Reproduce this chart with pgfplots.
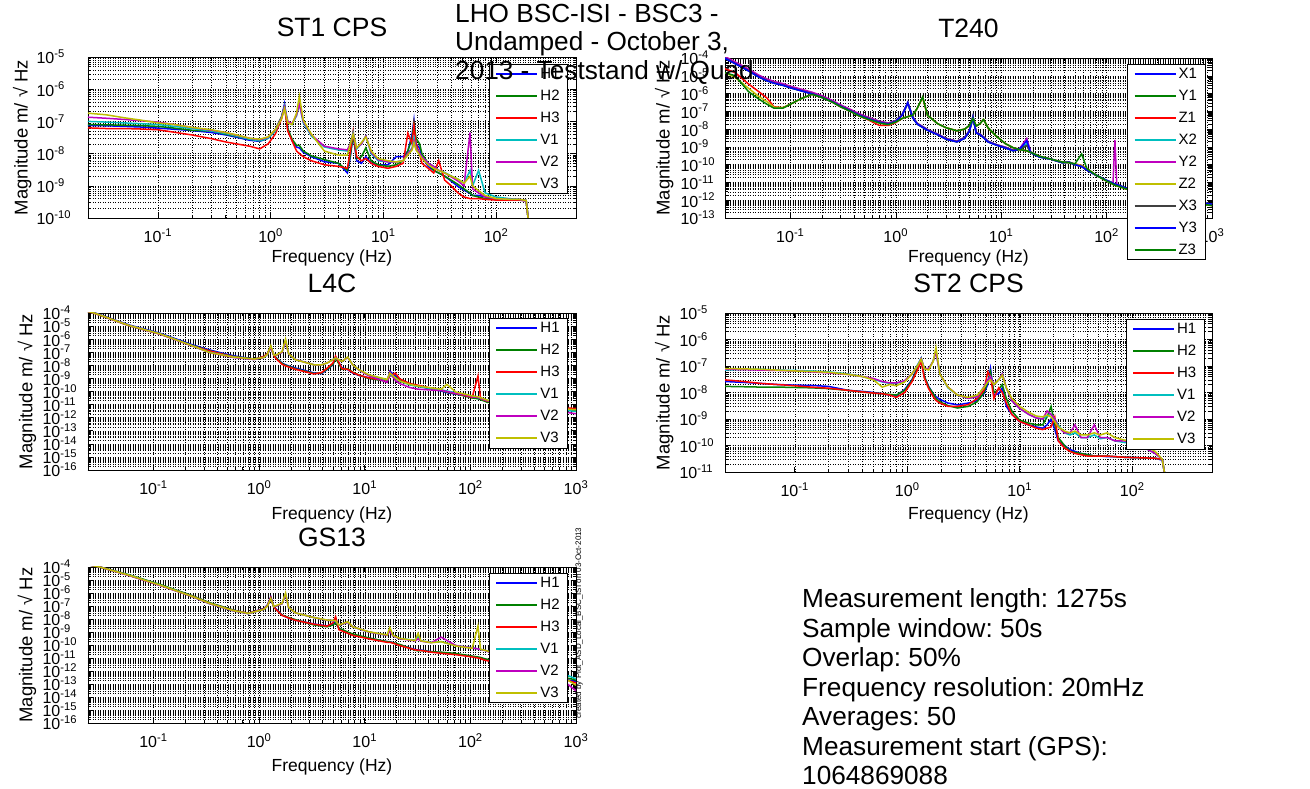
\documentclass[border=0pt]{standalone}
\usepackage{pgfplots}
\usepackage{pgfplotstable}
\pgfplotsset{compat=1.18}
\usepackage{fontspec}
\setmainfont{Liberation Sans}
\frenchspacing

\definecolor{mblue}{rgb}{0,0,1}
\definecolor{mgreen}{rgb}{0,0.5,0}
\definecolor{mred}{rgb}{1,0,0}
\definecolor{mcyan}{rgb}{0,0.75,0.75}
\definecolor{mmag}{rgb}{0.75,0,0.75}
\definecolor{molive}{rgb}{0.75,0.75,0}
\definecolor{mgray}{rgb}{0.25,0.25,0.25}

% ---------------- ST1 CPS ----------------
\pgfplotstableread{
f H1 H2 H3 V1 V2 V3
0.024 7.5e-8 8e-8 6.3e-8 1e-7 1.35e-7 1.8e-7
0.035 7.3e-8 7.8e-8 6e-8 9.5e-8 1.25e-7 1.6e-7
0.05 7e-8 7.6e-8 6e-8 9e-8 1.15e-7 1.3e-7
0.07 6.7e-8 7.4e-8 5.8e-8 8.5e-8 1.05e-7 1.1e-7
0.1 6.2e-8 7e-8 5.5e-8 8e-8 9.5e-8 9e-8
0.14 5.7e-8 6.2e-8 4.6e-8 7e-8 8e-8 8e-8
0.2 5.2e-8 5.3e-8 3.8e-8 6e-8 6.5e-8 6.5e-8
0.3 4.5e-8 5e-8 2.9e-8 5e-8 5.3e-8 5.5e-8
0.4 3.8e-8 4e-8 2.3e-8 4.2e-8 4.5e-8 4.5e-8
0.5 3.2e-8 3.4e-8 2e-8 3.5e-8 3.7e-8 3.8e-8
0.65 2.6e-8 2.8e-8 1.7e-8 2.8e-8 3e-8 3e-8
0.8 2.4e-8 2.5e-8 1.4e-8 2.5e-8 2.7e-8 2.8e-8
0.95 3e-8 3e-8 2e-8 3e-8 3.2e-8 3.3e-8
1.1 5e-8 5.5e-8 4e-8 5e-8 5.5e-8 5.5e-8
1.25 1.3e-7 1.4e-7 1.2e-7 1.3e-7 1.3e-7 1.2e-7
1.33 3.5e-7 3e-7 2.8e-7 3e-7 2.8e-7 2.5e-7
1.42 6e-8 6e-8 5e-8 1e-7 1e-7 9e-8
1.55 2.5e-8 2.8e-8 2.5e-8 8e-8 8.5e-8 8e-8
1.7 1.6e-8 1.8e-8 1.2e-8 1.5e-7 1.6e-7 1.8e-7
1.8 1.5e-8 1.8e-8 1e-8 3.5e-7 3.5e-7 6e-7
1.95 1.1e-8 1.2e-8 8e-9 9e-8 1e-7 1.1e-7
2.3 8e-9 8.5e-9 6e-9 3.5e-8 3.8e-8 4e-8
3 5.6e-9 6.5e-9 4.5e-9 1.6e-8 1.7e-8 1.2e-8
4 5e-9 5e-9 4e-9 1.3e-8 1.4e-8 9e-9
4.8 2.5e-9 3e-9 3.5e-9 1.2e-8 1.3e-8 9e-9
5.1 8e-9 9e-9 1.2e-8 2e-8 2e-8 2e-8
5.4 3.8e-8 4e-8 4.8e-8 4.5e-8 4e-8 4e-8
5.8 6e-9 7e-9 8e-9 1.4e-8 1.5e-8 1.5e-8
6.4 5e-9 8e-9 6e-9 2e-8 2e-8 2.2e-8
7.0 8e-9 1.5e-8 7e-9 3.5e-8 3.5e-8 3.3e-8
7.8 5e-9 6e-9 5e-9 1e-8 1.1e-8 1.2e-8
9 4.5e-9 4.5e-9 4e-9 6e-9 6.5e-9 7e-9
11 4.5e-9 4e-9 3.5e-9 5.5e-9 5.5e-9 6e-9
13 8e-9 4.5e-9 4e-9 5.5e-9 5.5e-9 5.5e-9
15 8e-9 6e-9 5e-9 6e-9 6e-9 6e-9
16.5 1.2e-8 1.2e-8 4.3e-8 1e-8 1e-8 9e-9
18 4e-8 3e-8 2e-8 1.5e-8 1.4e-8 1.3e-8
18.7 1.1e-7 9e-8 7.7e-8 3e-8 2.5e-8 2.2e-8
19.5 2e-8 3e-8 2e-8 1.5e-8 1.4e-8 1.3e-8
21 1.5e-8 2e-8 1e-8 1e-8 1e-8 9e-9
22 8e-9 1e-8 5e-9 8e-9 8e-9 7e-9
25 4e-9 5e-9 3.5e-9 5e-9 5e-9 4.5e-9
28 3e-9 3e-9 2.5e-9 4e-9 4e-9 3.5e-9
31 2.5e-9 2.5e-9 6e-9 3e-9 3e-9 3e-9
35 2e-9 2e-9 1.5e-9 2.6e-9 2.5e-9 2.5e-9
40 1.4e-9 1.5e-9 1e-9 2e-9 1.9e-9 2e-9
46 9.5e-10 1.1e-9 6e-10 1.6e-9 1.4e-9 1.6e-9
52 7.4e-10 8e-10 4.5e-10 1.2e-9 1e-9 1.2e-9
58.8 5.8e-10 6e-10 4e-10 3e-9 4.5e-8 2e-9
62 5e-10 5e-10 4e-10 1e-9 8e-10 1e-9
70 5e-10 4.5e-10 4e-10 3e-9 6e-10 7e-10
80 4.6e-10 4e-10 3.8e-10 6e-10 4.5e-10 5e-10
100 3.6e-10 3.8e-10 3.6e-10 4.5e-10 4e-10 4e-10
130 3.6e-10 3.7e-10 3.6e-10 4e-10 3.8e-10 3.8e-10
160 3.6e-10 3.7e-10 3.6e-10 3.8e-10 3.8e-10 3.8e-10
185 3.4e-10 3.5e-10 3.4e-10 3.5e-10 3.5e-10 3.5e-10
200 3e-11 3e-11 3e-11 3e-11 3e-11 3e-11
}\tabSTone

% ---------------- T240 ----------------
\pgfplotstableread{
f X1 Y1 Z1 X2 Y2 Z2 X3 Y3 Z3
0.024 1e-4 1e-4 2.5e-5 1.1e-4 1.2e-4 1.5e-5 1e-4 9.5e-5 1.5e-5
0.03 5e-5 4.8e-5 1.5e-5 5.5e-5 6e-5 8e-6 5e-5 4.8e-5 1e-5
0.04 2e-5 1.9e-5 3.5e-6 2.2e-5 2.4e-5 2e-6 2e-5 1.9e-5 1.3e-6
0.05 9e-6 8.6e-6 1.3e-6 1e-5 1.1e-5 7e-7 9e-6 8.6e-6 5e-7
0.06 5.5e-6 5.2e-6 5.6e-7 6e-6 6.6e-6 3.5e-7 5.5e-6 5.2e-6 2.5e-7
0.07 4e-6 3.8e-6 1.8e-7 4.4e-6 4.8e-6 1.7e-7 4e-6 3.8e-6 1.5e-7
0.085 3e-6 2.9e-6 1.6e-7 3.3e-6 3.6e-6 1.6e-7 3e-6 2.9e-6 1.5e-7
0.1 2.2e-6 2.1e-6 2.5e-7 2.4e-6 2.6e-6 2.5e-7 2.2e-6 2.1e-6 2.5e-7
0.125 1.5e-6 1.45e-6 5e-7 1.6e-6 1.8e-6 5e-7 1.5e-6 1.45e-6 5e-7
0.16 1e-6 9.6e-7 9e-7 1.1e-6 1.2e-6 9e-7 1e-6 9.6e-7 9e-7
0.2 6.3e-7 6e-7 6e-7 6.9e-7 7.5e-7 6e-7 6.3e-7 6e-7 6e-7
0.25 3.5e-7 3.4e-7 3.3e-7 3.8e-7 4.1e-7 3.3e-7 3.5e-7 3.4e-7 3.3e-7
0.3 2e-7 1.9e-7 1.8e-7 2.2e-7 2.3e-7 1.8e-7 2e-7 1.9e-7 1.8e-7
0.37 1.1e-7 1.05e-7 1e-7 1.2e-7 1.3e-7 1e-7 1.1e-7 1.05e-7 1e-7
0.45 6.3e-8 6e-8 5.5e-8 6.9e-8 7.3e-8 5.5e-8 6.3e-8 6e-8 5.5e-8
0.55 4e-8 3.8e-8 3.3e-8 4.4e-8 4.6e-8 3.5e-8 4e-8 3.8e-8 3.5e-8
0.7 2.5e-8 2.4e-8 1.6e-8 2.7e-8 2.8e-8 2.2e-8 2.5e-8 2.4e-8 2.2e-8
0.85 2e-8 1.9e-8 1.6e-8 2.2e-8 2.2e-8 1.8e-8 2e-8 1.9e-8 1.8e-8
1.0 2.8e-8 2.7e-8 2.3e-8 3e-8 3e-8 2.5e-8 2.8e-8 2.7e-8 2.5e-8
1.15 6.3e-8 6e-8 4e-8 6.5e-8 6.5e-8 4e-8 6.3e-8 6e-8 4e-8
1.3 3.2e-7 2.8e-7 5e-8 3e-7 3e-7 5e-8 3e-7 3e-7 5e-8
1.45 4.5e-8 4.3e-8 6e-8 4.8e-8 4.8e-8 6e-8 4.5e-8 4.3e-8 6e-8
1.6 2e-8 1.9e-8 1.5e-7 2.1e-8 2.1e-8 1.5e-7 2e-8 1.9e-8 1.5e-7
1.8 1.3e-8 1.25e-8 6e-7 1.4e-8 1.4e-8 6e-7 1.3e-8 1.25e-8 6.5e-7
2.0 9e-9 8.6e-9 6e-8 9.5e-9 9.5e-9 6e-8 9e-9 8.6e-9 6e-8
2.5 5e-9 4.8e-9 2e-8 5.3e-9 5.3e-9 2e-8 5e-9 4.8e-9 2e-8
3 2.8e-9 2.7e-9 1.2e-8 3e-9 3e-9 1.2e-8 2.8e-9 2.7e-9 1.2e-8
3.8 2e-9 1.9e-9 8e-9 2.1e-9 2.1e-9 8e-9 2e-9 1.9e-9 8e-9
4.5 3.2e-9 3e-9 1e-8 3.4e-9 3.4e-9 1e-8 3.2e-9 3e-9 1e-8
5.0 8e-9 7.6e-9 1.6e-8 8.5e-9 8.5e-9 1.6e-8 8e-9 7.6e-9 1.6e-8
5.4 5e-8 4.5e-8 4e-8 5e-8 5e-8 4e-8 5e-8 4.5e-8 4e-8
5.8 6.3e-9 6e-9 1.5e-8 6.6e-9 6.6e-9 1.5e-8 6.3e-9 6e-9 1.5e-8
6.3 5e-9 4.8e-9 2e-8 5.2e-9 5.2e-9 2e-8 5e-9 4.8e-9 2e-8
6.8 3.5e-9 3.3e-9 3.5e-8 3.7e-9 3.7e-9 3.5e-8 3.5e-9 3.3e-9 3.5e-8
7.5 2e-9 1.9e-9 1.2e-8 2.1e-9 2.1e-9 1.2e-8 2e-9 1.9e-9 1.2e-8
9 1.3e-9 1.25e-9 4e-9 1.35e-9 1.35e-9 4e-9 1.3e-9 1.25e-9 4e-9
11 9e-10 8.6e-10 1.5e-9 9.5e-10 9.5e-10 1.5e-9 9e-10 8.6e-10 1.5e-9
13 6.3e-10 6e-10 9e-10 6.6e-10 6.6e-10 9e-10 6.3e-10 6e-10 9e-10
15 8e-10 7e-10 7e-10 8e-10 8e-10 7e-10 8e-10 7.6e-10 7e-10
17.5 2.5e-9 1.2e-9 6e-10 1.5e-9 3e-9 6e-10 1.2e-9 2.2e-9 6e-10
19 5e-10 4.8e-10 5e-10 5.2e-10 5.2e-10 5e-10 5e-10 4.8e-10 5e-10
23 2.8e-10 2.7e-10 3e-10 2.9e-10 2.9e-10 3e-10 2.8e-10 2.7e-10 3e-10
30 2e-10 2e-10 2e-10 2e-10 2e-10 2e-10 2e-10 2e-10 2e-10
38 1.3e-10 1.3e-10 1.4e-10 1.3e-10 1.3e-10 1.4e-10 1.3e-10 1.3e-10 1.4e-10
44 1.4e-10 1.35e-10 1.3e-10 1.4e-10 1.4e-10 1.3e-10 1.4e-10 1.35e-10 1.3e-10
50 1e-10 1e-10 1.1e-10 1e-10 1e-10 1.1e-10 1e-10 1e-10 1.1e-10
58 8e-11 8e-11 9e-11 8e-11 8e-11 9e-11 8e-11 8e-11 4e-10
65 5e-11 5e-11 6e-11 5e-11 5e-11 6e-11 5e-11 5e-11 6e-11
80 2.5e-11 2.5e-11 2.5e-11 2.5e-11 2.5e-11 2.5e-11 2.5e-11 2.5e-11 2.5e-11
100 1.3e-11 1.3e-11 1.2e-11 1.3e-11 1.3e-11 1.2e-11 1.3e-11 1.3e-11 1.2e-11
115 9e-12 9e-12 8e-12 9e-12 9e-12 8e-12 9e-12 9e-12 8e-12
120 8e-12 8e-12 7e-12 8e-12 2.5e-9 7e-12 8e-12 8e-12 7e-12
125 7.5e-12 7.5e-12 6.5e-12 7.5e-12 7.5e-12 6.5e-12 7.5e-12 7.5e-12 6.5e-12
150 5e-12 5e-12 4.5e-12 5e-12 5e-12 4.5e-12 5e-12 5e-12 4.5e-12
200 3.2e-12 3e-12 3e-12 3.2e-12 3.2e-12 3e-12 3.2e-12 3e-12 3e-12
300 1.6e-12 1.6e-12 1.5e-12 1.6e-12 1.6e-12 1.5e-12 1.6e-12 1.6e-12 1.5e-12
500 1e-12 1e-12 9e-13 1e-12 1e-12 9e-13 1e-12 1e-12 9e-13
1000 6e-13 6e-13 5e-13 6e-13 6e-13 5e-13 6e-13 6e-13 5e-13
}\tabTtwo

% ---------------- L4C ----------------
\pgfplotstableread{
f H1 H2 H3 V1 V2 V3
0.024 1.4e-4 1.3e-4 1.25e-4 1.3e-4 1.3e-4 1.3e-4
0.028 1e-4 9.5e-5 9e-5 9.5e-5 9.5e-5 9.5e-5
0.059 1.2e-5 1.1e-5 1.05e-5 1.1e-5 1.1e-5 1.1e-5
0.116 2.8e-6 2.5e-6 2.4e-6 2.5e-6 2.4e-6 2.5e-6
0.236 3.6e-7 3.2e-7 3e-7 3e-7 2.9e-7 3e-7
0.34 1.5e-7 1.3e-7 1.25e-7 1e-7 9.5e-8 9.5e-8
0.565 5.4e-8 4.8e-8 4.6e-8 4.3e-8 4e-8 4.3e-8
0.9 3e-8 3e-8 2.8e-8 2.8e-8 2.8e-8 3e-8
1.11 4.3e-8 4.5e-8 4.8e-8 4e-8 4e-8 4e-8
1.2 8e-8 8e-8 8e-8 7e-8 7e-8 7e-8
1.29 2.7e-7 2.5e-7 2.6e-7 2.2e-7 2.2e-7 3.2e-7
1.38 6e-8 6e-8 5.5e-8 6e-8 6e-8 6e-8
1.46 3.6e-8 3.5e-8 3e-8 6e-8 6e-8 6.3e-8
1.65 1.5e-8 1.4e-8 1.2e-8 1e-7 1e-7 1.1e-7
1.78 1.1e-8 1e-8 9e-9 7e-7 7e-7 9.8e-7
1.9 9e-9 8.5e-9 7.5e-9 8e-8 8e-8 8e-8
2.2 6.3e-9 5.5e-9 5e-9 2.8e-8 2.8e-8 2.7e-8
3.3 2.6e-9 2.4e-9 2.2e-9 1.1e-8 1.1e-8 1.1e-8
3.9 2.3e-9 2.6e-9 2.8e-9 1.1e-8 1.1e-8 1.1e-8
4.4 4.7e-9 5e-9 6e-9 1.5e-8 1.5e-8 1.5e-8
5.0 1.1e-8 1.2e-8 1.5e-8 2.8e-8 2.7e-8 2.7e-8
5.3 4.3e-8 3.5e-8 5e-8 3.5e-8 3.5e-8 3.6e-8
6.1 6.3e-9 5e-9 5.5e-9 2e-8 2e-8 2e-8
6.9 4.7e-9 5.5e-9 5e-9 4e-8 4e-8 4.3e-8
7.7 2.6e-9 3e-9 2.8e-9 1.1e-8 1.1e-8 1.1e-8
8.8 1.7e-9 1.8e-9 1.8e-9 4.5e-9 4.5e-9 4.7e-9
10.9 1.1e-9 1e-9 1.1e-9 1.8e-9 1.6e-9 1.9e-9
16.3 6.2e-10 6e-10 6.5e-10 7.5e-10 5e-10 8.3e-10
17.3 3.5e-9 2e-9 1.5e-9 2e-9 3e-9 2.6e-9
19.5 1.5e-9 1.2e-9 2.5e-9 1e-9 7e-10 1.1e-9
21.5 8.3e-10 8e-10 9e-10 6e-10 4e-10 6.2e-10
26.8 3.5e-10 3.8e-10 4e-10 3.2e-10 2e-10 3.5e-10
32 2.6e-10 2.8e-10 3e-10 2.4e-10 1.5e-10 2.6e-10
42.6 1.5e-10 1.6e-10 1.8e-10 1.7e-10 1.3e-10 1.9e-10
53 1.1e-10 1.2e-10 1.3e-10 1.3e-10 1.2e-10 1.5e-10
60 8.2e-11 9e-11 1e-10 1.1e-10 1e-10 3.5e-10
73 6.2e-11 6.5e-11 7e-11 8e-11 7e-11 9e-11
84 5.1e-11 5e-11 5.5e-11 6.5e-11 6e-11 7e-11
104 3.4e-11 3.2e-11 3.5e-11 4.2e-11 4e-11 4.6e-11
118 3e-11 2.8e-11 1.5e-9 3.5e-11 3.5e-11 4e-11
125 2.6e-11 2.4e-11 2.8e-11 3e-11 3e-11 3.4e-11
145 1.6e-11 1.5e-11 1.8e-11 2e-11 2e-11 2.2e-11
200 1.2e-11 1.1e-11 1.3e-11 1.4e-11 1.3e-11 1.5e-11
300 9e-12 8e-12 1e-11 1e-11 9e-12 1e-11
500 7e-12 6e-12 8e-12 6e-12 5e-12 7e-12
700 5.5e-12 4.5e-12 6e-12 4e-12 3e-12 5e-12
1000 4.5e-12 3.5e-12 5e-12 3e-12 2e-12 4e-12
}\tabLfour

% ---------------- ST2 CPS ----------------
\pgfplotstableread{
f H1 H2 H3 V1 V2 V3
0.024 2.6e-8 1.7e-8 3e-8 7e-8 7.5e-8 8e-8
0.035 2.4e-8 1.65e-8 2.6e-8 7.5e-8 7.3e-8 7.8e-8
0.05 2.2e-8 1.6e-8 2.2e-8 7.5e-8 7e-8 7.5e-8
0.07 2e-8 1.6e-8 2e-8 7e-8 6.8e-8 7e-8
0.1 1.9e-8 1.55e-8 1.8e-8 6.8e-8 6.5e-8 6.5e-8
0.14 1.85e-8 1.5e-8 1.6e-8 6.5e-8 6e-8 6.2e-8
0.2 1.7e-8 1.4e-8 1.45e-8 6e-8 5.5e-8 5.8e-8
0.3 1.2e-8 1.2e-8 1.2e-8 5e-8 4.8e-8 4.8e-8
0.4 1.1e-8 1.05e-8 1.05e-8 4e-8 4e-8 4e-8
0.5 1e-8 9.5e-9 9.5e-9 3.2e-8 3.4e-8 3e-8
0.6 9e-9 9e-9 9e-9 2.5e-8 2.6e-8 1.6e-8
0.7 8e-9 8.5e-9 8e-9 2.2e-8 2.3e-8 2e-8
0.8 7.5e-9 8e-9 6.5e-9 2.2e-8 2.3e-8 1.8e-8
0.95 1.3e-8 1.2e-8 1e-8 2.8e-8 2.8e-8 2.5e-8
1.1 3e-8 2.8e-8 2.5e-8 5e-8 5e-8 5e-8
1.25 1e-7 9e-8 8e-8 1.2e-7 1.1e-7 1.1e-7
1.33 1.9e-7 1.7e-7 1.5e-7 2e-7 1.9e-7 1.8e-7
1.42 4e-8 4e-8 3.5e-8 8e-8 8e-8 8e-8
1.55 1.7e-8 1.6e-8 1.4e-8 8e-8 8e-8 7e-8
1.7 9e-9 9e-9 7e-9 1.5e-7 1.5e-7 1.5e-7
1.8 7e-9 6e-9 5e-9 3.5e-7 3.5e-7 5e-7
1.95 5.5e-9 4.5e-9 4e-9 5e-8 5e-8 5e-8
2.3 4e-9 3.2e-9 3e-9 1.5e-8 1.6e-8 1.6e-8
2.8 3.4e-9 2.6e-9 3e-9 8e-9 8e-9 8e-9
3.5 4e-9 3e-9 3.5e-9 6e-9 6e-9 6.5e-9
4.2 5e-9 4.5e-9 6e-9 7e-9 7e-9 8e-9
4.8 9e-9 1e-8 1.2e-8 1.6e-8 1.6e-8 1.5e-8
5.2 2e-8 2.5e-8 6e-8 3e-8 3e-8 2.5e-8
5.5 8e-8 6e-8 4e-8 4e-8 4e-8 3e-8
5.9 8e-9 1e-8 6e-9 2e-8 2e-8 2e-8
6.5 9e-9 1.3e-8 1.5e-8 3e-8 3e-8 3e-8
7.0 1.5e-8 2e-8 1e-8 5e-8 5e-8 4.5e-8
7.6 3e-9 6e-9 4e-9 1.5e-8 1.5e-8 1.5e-8
8.5 1.5e-9 2e-9 1.5e-9 5e-9 5e-9 6e-9
10 8e-10 9e-10 8e-10 2.5e-9 2.5e-9 3e-9
12 6e-10 7e-10 6e-10 1.5e-9 1.5e-9 1.8e-9
14 5e-10 6e-10 4.5e-10 1.1e-9 1.1e-9 1.3e-9
16 4.5e-10 6e-10 4e-10 1e-9 1e-9 1.2e-9
17.5 6e-10 1.2e-9 4.5e-10 1.3e-9 2e-9 1.4e-9
19 1e-9 3e-9 5e-10 1.5e-9 1.5e-9 1.2e-9
20.5 4e-10 6e-10 1.2e-9 1e-9 1e-9 8e-10
22 1.5e-10 2e-10 1.5e-10 6e-10 5e-10 5e-10
25 1e-10 1e-10 8e-11 3e-10 3e-10 3.5e-10
28 7e-11 6e-11 6e-11 2.5e-10 3e-10 3e-10
31 6e-11 5.5e-11 5e-11 3e-10 6e-10 3.5e-10
35 5e-11 5e-11 4.5e-11 2e-10 2e-10 2.5e-10
40 4.5e-11 4.5e-11 4e-11 2e-10 2e-10 2.5e-10
46 4e-11 4e-11 4e-11 2.5e-10 6e-10 3e-10
52 4e-11 4e-11 4e-11 1.8e-10 2e-10 2.5e-10
60 3.8e-11 4e-11 4e-11 2e-10 2e-10 3e-10
70 3.8e-11 3.8e-11 3.8e-11 1.5e-10 1.5e-10 2e-10
85 3.6e-11 3.6e-11 3.6e-11 1.3e-10 1.5e-10 1.6e-10
100 3.5e-11 3.5e-11 3.5e-11 1.2e-10 1.2e-10 1.5e-10
130 3.4e-11 3.4e-11 3.4e-11 8e-11 8e-11 1e-10
160 3.3e-11 3.3e-11 3.3e-11 5e-11 5e-11 6e-11
185 2.8e-11 3e-11 3e-11 3e-11 3e-11 3e-11
200 4e-12 4e-12 4e-12 4e-12 4e-12 4e-12
}\tabSTtwo

% ---------------- GS13 ----------------
\pgfplotstableread{
f H1 H2 H3 V1 V2 V3
0.024 1.6e-4 1.5e-4 1.5e-4 1.5e-4 1.5e-4 1.5e-4
0.031 1e-4 1e-4 1e-4 1e-4 1e-4 1e-4
0.059 2.3e-5 2.5e-5 2.2e-5 2.3e-5 2.2e-5 2.3e-5
0.116 4e-6 4.5e-6 3.8e-6 4e-6 3.8e-6 4e-6
0.236 5.7e-7 6e-7 5.5e-7 5.2e-7 5e-7 5.2e-7
0.34 1.7e-7 1.8e-7 1.6e-7 1.5e-7 1.5e-7 1.6e-7
0.565 4.8e-8 5e-8 4.6e-8 4.3e-8 4.3e-8 4.5e-8
0.79 2.7e-8 2.6e-8 2.8e-8 2.6e-8 2.6e-8 2.7e-8
1.11 6.5e-8 6e-8 6e-8 5.5e-8 5.5e-8 5.5e-8
1.2 1.2e-7 1.1e-7 1.1e-7 1e-7 1e-7 1e-7
1.29 5e-7 4e-7 4.5e-7 3.5e-7 3.5e-7 3.7e-7
1.38 9e-8 8e-8 8e-8 9e-8 9e-8 9e-8
1.46 5.4e-8 5e-8 5e-8 1e-7 1e-7 1.1e-7
1.65 2e-8 2e-8 1.9e-8 1.5e-7 1.5e-7 1.6e-7
1.78 1.5e-8 1.6e-8 1.5e-8 8e-7 8e-7 1e-6
1.9 1.2e-8 1.3e-8 1.2e-8 8e-8 8e-8 8e-8
2.2 8.3e-9 9e-9 8e-9 3e-8 3e-8 3e-8
3.3 4.1e-9 3.5e-9 4e-9 1.3e-8 1.3e-8 1.3e-8
4.4 2.9e-9 2.5e-9 2.8e-9 8e-9 8e-9 8.3e-9
5.0 4e-9 3.5e-9 5e-9 7.5e-9 7.5e-9 7.8e-9
5.3 6e-9 5e-9 1.5e-8 7e-9 7e-9 7.4e-9
5.7 1.9e-9 2e-9 1.5e-9 3.4e-9 3.4e-9 3.4e-9
6.9 9e-10 1e-9 8e-10 5.5e-9 5.5e-9 6.2e-9
7.7 6e-10 7e-10 5.5e-10 2.5e-9 2.5e-9 2.5e-9
10.9 3.3e-10 3.5e-10 3e-10 1e-9 1e-9 1.05e-9
16.3 1.8e-10 1.8e-10 1.6e-10 5.5e-10 5.5e-10 5.9e-10
17.3 1.8e-10 1.7e-10 1.6e-10 1.5e-9 1.2e-9 2.2e-9
18.5 1.5e-10 1.5e-10 1.4e-10 5e-10 5e-10 5.5e-10
21.5 1e-10 1.1e-10 9e-11 3.2e-10 3e-10 3.2e-10
30 4.5e-11 4e-11 4.2e-11 2.3e-10 2.1e-10 2.2e-10
32 4.1e-11 3.5e-11 4e-11 5e-10 3e-10 7.9e-10
34 4e-11 3.8e-11 3.8e-11 2.1e-10 2e-10 2.1e-10
42.6 3.1e-11 3e-11 2.8e-11 1.6e-10 1.5e-10 1.5e-10
53 2.6e-11 2.8e-11 2.3e-11 1.8e-10 4e-10 1.8e-10
73 2e-11 2.2e-11 1.8e-11 9e-11 9e-11 8.4e-11
104 1.3e-11 1.4e-11 1.2e-11 6e-11 6e-11 5.5e-11
118 1.1e-11 1.2e-11 1e-11 5e-11 5e-11 2.8e-9
125 1e-11 1.1e-11 9e-12 4.5e-11 4.5e-11 4.5e-11
135 8e-12 9e-12 7e-12 4e-11 4e-11 4.1e-11
200 4e-12 4.5e-12 3.5e-12 1.5e-11 1.2e-11 1.5e-11
300 2e-12 2.2e-12 1.8e-12 6e-12 4e-12 5e-12
500 8e-13 9e-13 7e-13 2e-12 1e-12 1.5e-12
700 3e-13 4e-13 3e-13 8e-13 3e-13 5e-13
1000 1.5e-13 2e-13 1.2e-13 2.5e-13 3e-14 8e-14
}\tabGS

% settings shared by all five spectra
\pgfplotsset{
  legend image code/.code={\draw[#1, line width=2pt] (0pt,0pt) -- (41pt,0pt);},
}
\pgfplotsset{
  scale only axis,
  axis line style={black, line width=0.6pt},
  grid=both,
  major grid style={black, line width=0.45pt, dash pattern=on 0.7pt off 1.8pt},
  minor grid style={black, line width=0.4pt, dash pattern=on 0.7pt off 1.8pt},
  tick style={black, line width=0.5pt},
  major tick length=5pt, minor tick length=3pt,
  tick align=inside,
  xticklabel={10\textsuperscript{\pgfmathparse{int(round(\tick/ln(10)))}\pgfmathresult}},
  yticklabel={10\textsuperscript{\pgfmathparse{int(round(\tick/ln(10)))}\pgfmathresult}},
  tick label style={font=\fontsize{16}{19}\selectfont},
  xticklabel style={yshift=-7pt},
  yticklabel style={anchor=west},
  title style={font=\fontsize{26.5}{31}\selectfont, at={(axis description cs:0.5,1)}, anchor=center, yshift=24pt},
  label style={font=\fontsize{17.5}{21}\selectfont},
  ylabel style={font=\fontsize{18.5}{22}\selectfont, at={(axis description cs:-0.125,0.5)}, anchor=center},
  every axis plot/.append style={line width=1.5pt, no marks},
  legend cell align=left,
  legend style={draw=black, fill=white, line width=0.6pt,
    font=\fontsize{15}{18}\selectfont, anchor=north west,
    inner xsep=6pt, inner ysep=2pt, row sep=6pt},
}

\begin{document}
\begin{tikzpicture}[x=1pt,y=1pt]
\useasboundingbox (0,0) rectangle (1310,789);
\fill[white] (0,0) rectangle (1310,789);

% ST1 CPS
\begin{loglogaxis}[at={(88pt,571pt)}, anchor=south west, width=488pt, height=161pt,
  xmin=0.024, xmax=512, ymin=1e-10, ymax=1e-5,
  xtick={0.1,1,10,100}, ytick={1e-10,1e-9,1e-8,1e-7,1e-6,1e-5},
  yticklabel style={xshift=-55pt},
  ylabel style={at={(axis description cs:-0.135,0.5)}},
  title={ST1 CPS}, xlabel={Frequency (Hz)}, ylabel={Magnitude m/ √ Hz},
  xlabel style={at={(axis description cs:0.5,0)}, anchor=center, yshift=-40pt},
  legend style={at={(0.822,0.957)}}]
\addplot[mblue]  table[x=f,y=H1]{\tabSTone};
\addplot[mgreen] table[x=f,y=H2]{\tabSTone};
\addplot[mred]   table[x=f,y=H3]{\tabSTone};
\addplot[mcyan]  table[x=f,y=V1]{\tabSTone};
\addplot[mmag]   table[x=f,y=V2]{\tabSTone};
\addplot[molive] table[x=f,y=V3]{\tabSTone};
\legend{H1,H2,H3,V1,V2,V3}
\end{loglogaxis}

% T240
\begin{loglogaxis}[at={(725pt,571pt)}, anchor=south west, width=487pt, height=160pt,
  xmin=0.024, xmax=1000, ymin=1e-13, ymax=1e-4,
  xtick={0.1,1,10,100,1000},
  ytick={1e-13,1e-12,1e-11,1e-10,1e-9,1e-8,1e-7,1e-6,1e-5,1e-4},
  yticklabel style={xshift=-48pt},
  title={T240}, xlabel={Frequency (Hz)}, ylabel={Magnitude m/ √ Hz},
  xlabel style={at={(axis description cs:0.5,0)}, anchor=center, yshift=-40pt},
  legend style={at={(0.826,0.9625)}}]
\addplot[mblue]  table[x=f,y=X1]{\tabTtwo};
\addplot[mgreen] table[x=f,y=Y1]{\tabTtwo};
\addplot[mred]   table[x=f,y=Z1]{\tabTtwo};
\addplot[mcyan]  table[x=f,y=X2]{\tabTtwo};
\addplot[mmag]   table[x=f,y=Y2]{\tabTtwo};
\addplot[molive] table[x=f,y=Z2]{\tabTtwo};
\addplot[mgray]  table[x=f,y=X3]{\tabTtwo};
\addplot[mblue]  table[x=f,y=Y3]{\tabTtwo};
\addplot[mgreen] table[x=f,y=Z3]{\tabTtwo};
\legend{X1,Y1,Z1,X2,Y2,Z2,X3,Y3,Z3}
\end{loglogaxis}

% L4C
\begin{loglogaxis}[at={(88pt,319pt)}, anchor=south west, width=488pt, height=157pt,
  xmin=0.024, xmax=1000, ymin=1e-16, ymax=1e-4,
  xtick={0.1,1,10,100,1000},
  ytick={1e-16,1e-15,1e-14,1e-13,1e-12,1e-11,1e-10,1e-9,1e-8,1e-7,1e-6,1e-5,1e-4},
  yticklabel style={xshift=-49pt},
  title={L4C}, xlabel={Frequency (Hz)}, ylabel={Magnitude m/ √ Hz},
  xlabel style={at={(axis description cs:0.5,0)}, anchor=center, yshift=-45pt},
  legend style={at={(0.822,0.968)}}]
\addplot[mblue]  table[x=f,y=H1]{\tabLfour};
\addplot[mgreen] table[x=f,y=H2]{\tabLfour};
\addplot[mred]   table[x=f,y=H3]{\tabLfour};
\addplot[mcyan]  table[x=f,y=V1]{\tabLfour};
\addplot[mmag]   table[x=f,y=V2]{\tabLfour};
\addplot[molive] table[x=f,y=V3]{\tabLfour};
\legend{H1,H2,H3,V1,V2,V3}
\end{loglogaxis}

% ST2 CPS
\begin{loglogaxis}[at={(725pt,317pt)}, anchor=south west, width=487pt, height=159pt,
  xmin=0.024, xmax=512, ymin=1e-11, ymax=1e-5,
  xtick={0.1,1,10,100}, ytick={1e-11,1e-10,1e-9,1e-8,1e-7,1e-6,1e-5},
  yticklabel style={xshift=-49pt},
  title={ST2 CPS}, xlabel={Frequency (Hz)}, ylabel={Magnitude m/ √ Hz},
  xlabel style={at={(axis description cs:0.5,0)}, anchor=center, yshift=-43pt},
  legend style={at={(0.823,0.962)}}]
\addplot[mblue]  table[x=f,y=H1]{\tabSTtwo};
\addplot[mgreen] table[x=f,y=H2]{\tabSTtwo};
\addplot[mred]   table[x=f,y=H3]{\tabSTtwo};
\addplot[mcyan]  table[x=f,y=V1]{\tabSTtwo};
\addplot[mmag]   table[x=f,y=V2]{\tabSTtwo};
\addplot[molive] table[x=f,y=V3]{\tabSTtwo};
\legend{H1,H2,H3,V1,V2,V3}
\end{loglogaxis}

% GS13
\begin{loglogaxis}[at={(88pt,66pt)}, anchor=south west, width=488pt, height=156pt,
  xmin=0.024, xmax=1000, ymin=1e-16, ymax=1e-4,
  xtick={0.1,1,10,100,1000},
  ytick={1e-16,1e-15,1e-14,1e-13,1e-12,1e-11,1e-10,1e-9,1e-8,1e-7,1e-6,1e-5,1e-4},
  yticklabel style={xshift=-49pt},
  title={GS13}, xlabel={Frequency (Hz)}, ylabel={Magnitude m/ √ Hz},
  xlabel style={at={(axis description cs:0.5,0)}, anchor=center, yshift=-44pt},
  legend style={at={(0.822,0.962)}}]
\addplot[mblue]  table[x=f,y=H1]{\tabGS};
\addplot[mgreen] table[x=f,y=H2]{\tabGS};
\addplot[mred]   table[x=f,y=H3]{\tabGS};
\addplot[mcyan]  table[x=f,y=V1]{\tabGS};
\addplot[mmag]   table[x=f,y=V2]{\tabGS};
\addplot[molive] table[x=f,y=V3]{\tabGS};
\legend{H1,H2,H3,V1,V2,V3}
\end{loglogaxis}

% overall title
\begin{scope}[every node/.style={inner sep=0pt, anchor=base west, font=\fontsize{26.2}{30}\selectfont}]
\node at (455,766) {LHO BSC-ISI - BSC3 -};
\node at (455,738) {Undamped - October 3,};
\node at (455,709) {2013 - Teststand w/ Quad};
\end{scope}

% measurement summary
\begin{scope}[every node/.style={inner sep=0pt, anchor=base west, font=\fontsize{26.2}{30}\selectfont}]
\node at (802,181) {Measurement length: 1275s};
\node at (802,151.5) {Sample window: 50s};
\node at (802,122) {Overlap: 50\%};
\node at (802,92.5) {Frequency resolution: 20mHz};
\node at (802,63) {Averages: 50};
\node at (802,33.5) {Measurement start (GPS):};
\node at (802,4) {1064869088};
\end{scope}

\node[rotate=90, inner sep=0pt, font=\fontsize{8}{9}\selectfont] at (579,166)
  {created by Plot\_ASD\_Local\_BSC\_ISI on 03-Oct-2013};
\end{tikzpicture}
\end{document}
